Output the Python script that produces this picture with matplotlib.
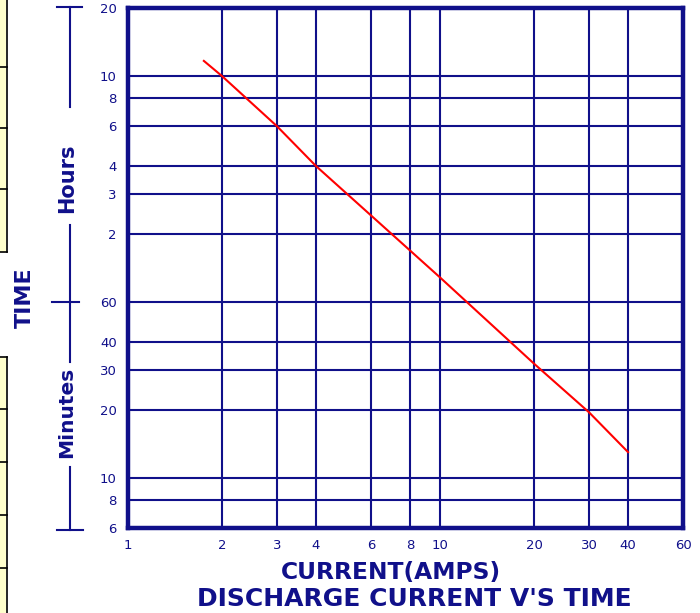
import matplotlib
matplotlib.use("Agg")
import matplotlib.pyplot as plt
from matplotlib.lines import Line2D
from matplotlib.patches import Rectangle
from matplotlib.ticker import FixedLocator, FixedFormatter, NullLocator

# current in amps vs discharge time (in minutes)
current = [1.75, 2, 3, 4, 10, 20, 30, 40]
time_min = [700, 600, 360, 240, 77, 32, 19.5, 13]

x_ticks = [1, 2, 3, 4, 6, 8, 10, 20, 30, 40, 60]
x_labels = ["1", "2", "3", "4", "6", "8", "10", "20", "30", "40", "60"]

# minutes first, then hours (stored in minutes)
y_ticks = [6, 8, 10, 20, 30, 40, 60, 120, 180, 240, 360, 480, 600, 1200]
y_labels = ["6", "8", "10", "20", "30", "40", "60", "2", "3", "4", "6", "8", "10", "20"]

NAVY = "#10108a"
W, H = 700, 613

fig = plt.figure(figsize=(7, 6.13), dpi=100)
ax = fig.add_axes([128 / W, 85 / H, 555 / W, 520 / H])

ax.set_xscale("log")
ax.set_yscale("log")
ax.set_xlim(1, 60)
ax.set_ylim(6, 1200)

ax.xaxis.set_major_locator(FixedLocator(x_ticks))
ax.xaxis.set_major_formatter(FixedFormatter(x_labels))
ax.xaxis.set_minor_locator(NullLocator())
ax.yaxis.set_major_locator(FixedLocator(y_ticks))
ax.yaxis.set_major_formatter(FixedFormatter(y_labels))
ax.yaxis.set_minor_locator(NullLocator())

ax.grid(True, which="major", color=NAVY, linewidth=1.5)
ax.tick_params(length=0, colors=NAVY, labelsize=9.5, pad=8)
for s in ax.spines.values():
    s.set_color(NAVY)
    s.set_linewidth(3.2)

ax.plot(current, time_min, color="red", linewidth=1.5, zorder=3)


def px(x, y):
    return x / W, 1 - y / H


def fig_line(x0, y0, x1, y1, color=NAVY, lw=1.5):
    (a, b), (c, d) = px(x0, y0), px(x1, y1)
    fig.add_artist(Line2D([a, c], [b, d], transform=fig.transFigure,
                          color=color, linewidth=lw))


fig.text(*px(391, 572), "CURRENT(AMPS)", color=NAVY, fontsize=16.8,
         fontweight="bold", ha="center", va="center")
fig.text(*px(414, 599), "DISCHARGE CURRENT V'S TIME", color=NAVY,
         fontsize=18, fontweight="bold", ha="center", va="center")

# time scale bracket on the left
fig_line(70, 7, 70, 107)
fig_line(57, 7, 82, 7)
fig_line(70, 225, 70, 362)
fig_line(52, 302, 79, 302)
fig_line(70, 467, 70, 530)
fig_line(57, 530, 83, 530)

fig.text(*px(67, 178), "Hours", color=NAVY, fontsize=15, fontweight="bold",
         rotation=90, ha="center", va="center")
fig.text(*px(67, 412), "Minutes", color=NAVY, fontsize=14.5, fontweight="bold",
         rotation=90, ha="center", va="center")
fig.text(*px(25, 298), "TIME", color=NAVY, fontsize=16, fontweight="bold",
         rotation=90, ha="center", va="center")

# strip of the neighbouring table on the left edge
for top, bottom in [(0, 252), (357, 613)]:
    a, b = px(0, bottom)
    fig.add_artist(Rectangle((a, b), 6 / W, (bottom - top) / H, transform=fig.transFigure,
                             facecolor="#ffffcc", edgecolor="none"))
    fig_line(6.5, top, 6.5, bottom, color="black", lw=1.2)
for y in [67, 128, 189, 252, 357, 409, 462, 515, 568]:
    fig_line(0, y, 6.5, y, color="black", lw=1.2)

fig.savefig("out.png", dpi=100)
